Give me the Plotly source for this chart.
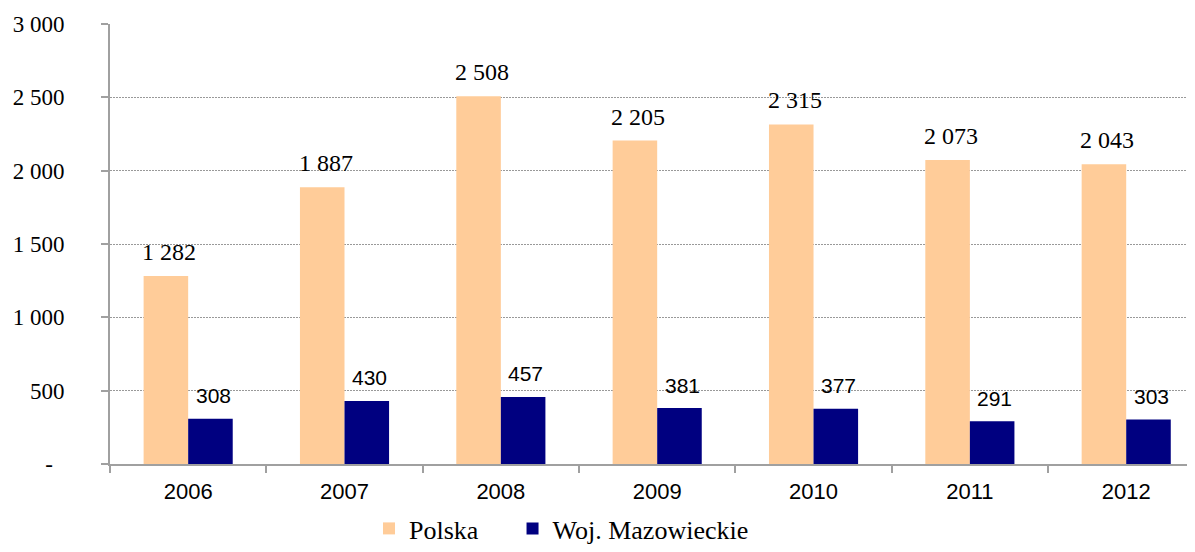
import plotly.graph_objects as go

years = ["2006", "2007", "2008", "2009", "2010", "2011", "2012"]
polska = [1282, 1887, 2508, 2205, 2315, 2073, 2043]
mazowieckie = [308, 430, 457, 381, 377, 291, 303]
y_ticks = [0, 500, 1000, 1500, 2000, 2500, 3000]
y_tick_labels = ["-\u00a0\u00a0", "500", "1 000", "1 500", "2 000", "2 500", "3 000"]


def fmt(v):
    return f"{v:,}".replace(",", " ")


SERIF = "Liberation Serif, Times New Roman, serif"
SANS = "Liberation Sans, Arial, sans-serif"

fig = go.Figure()
fig.add_trace(go.Bar(name="Polska", x=years, y=polska, marker_color="#FFCC99",
                     marker_line_width=0, legend="legend"))
fig.add_trace(go.Bar(name="Woj. Mazowieckie", x=years, y=mazowieckie,
                     marker_color="#000080", marker_line_width=0, legend="legend2"))

annotations = []
for i, v in enumerate(polska):
    annotations.append(dict(x=i, y=v, xref="x", yref="y", text=fmt(v),
                            showarrow=False, xshift=-22 + 3, yshift=24,
                            yanchor="middle", xanchor="center",
                            font=dict(family=SERIF, size=24, color="black")))
for i, v in enumerate(mazowieckie):
    annotations.append(dict(x=i, y=v, xref="x", yref="y", text=fmt(v),
                            showarrow=False, xshift=22 + 3, yshift=23,
                            yanchor="middle", xanchor="center",
                            font=dict(family=SANS, size=21, color="black")))

legend_common = dict(orientation="h", xanchor="left", xref="paper",
                     y=0.0, yanchor="bottom", yref="container",
                     font=dict(family=SERIF, size=26, color="black"),
                     bgcolor="rgba(0,0,0,0)")

fig.update_layout(
    width=1187, height=544,
    margin=dict(l=102, r=0, t=16, b=88, autoexpand=False),
    paper_bgcolor="white", plot_bgcolor="white",
    barmode="group", bargap=0.43, bargroupgap=0,
    annotations=annotations,
    showlegend=True,
    legend=dict(x=0.2387, **legend_common),
    legend2=dict(x=0.371, **legend_common),
    xaxis=dict(type="category", range=[-0.5, 6.44], tickson="boundaries",
               ticks="outside", ticklen=7, automargin=False,
               tickwidth=2, tickcolor="#A0A0A0", showline=True, linecolor="#A0A0A0",
               linewidth=2, showgrid=False, ticklabelstandoff=7,
               tickfont=dict(family=SANS, size=22, color="black")),
    yaxis=dict(range=[0, 3000], tickvals=y_ticks, ticktext=y_tick_labels,
               ticks="outside", ticklen=7, tickwidth=2, tickcolor="#A0A0A0",
               showline=True, linecolor="#A0A0A0", linewidth=2, automargin=False,
               showgrid=True, gridcolor="#999999", gridwidth=1, griddash="2px,1px",
               zeroline=False, ticklabelstandoff=32,
               tickfont=dict(family=SERIF, size=23, color="black")),
)

fig.write_html("out.html")
